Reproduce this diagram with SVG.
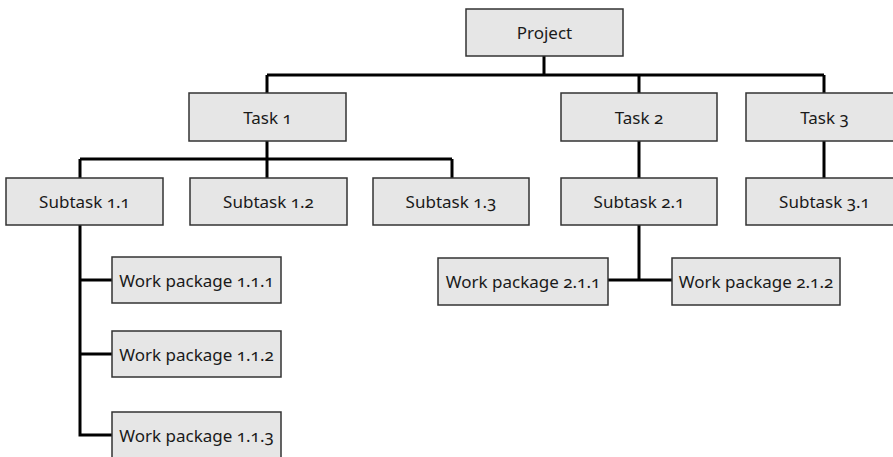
<svg xmlns="http://www.w3.org/2000/svg" width="893" height="457" viewBox="0 0 893 457">
<style>
.box{fill:#e6e6e6;stroke:#333;stroke-width:1.5}
.lbl{font-family:"Noto Sans","Open Sans","Liberation Sans",sans-serif;font-size:17px;fill:#1a1a1a;text-anchor:middle;dominant-baseline:central;font-variant-numeric:oldstyle-nums;font-feature-settings:"onum" 1}
.con{fill:none;stroke:#000;stroke-width:3}
</style>
<rect width="893" height="457" fill="#fff"/>
<g id="connectors">
<path class="con" d="M544,56V75M267,75H824M267,75V93M639,75V93M824,75V93"/>
<path class="con" d="M267,141V159M80,159H452M80,159V178M267,159V178M452,159V178"/>
<path class="con" d="M639,141V178M824,141V178"/>
<path class="con" d="M80,225V435H112M80,280H112M80,354H112"/>
<path class="con" d="M639,225V280M608,280H672"/>
</g>
<g id="project"><rect class="box" x="466" y="9" width="157" height="47"/><text class="lbl" x="544.5" y="32.5">Project</text></g>
<g id="task1"><rect class="box" x="189" y="93" width="157" height="48"/><text class="lbl" x="267.5" y="117">Task 1</text></g>
<g id="task2"><rect class="box" x="561" y="93" width="156" height="48"/><text class="lbl" x="639" y="117">Task 2</text></g>
<g id="task3"><rect class="box" x="746" y="93" width="157" height="48"/><text class="lbl" x="824.5" y="117">Task 3</text></g>
<g id="subtask11"><rect class="box" x="6" y="178" width="157" height="47"/><text class="lbl" x="84.5" y="201.5">Subtask 1.1</text></g>
<g id="subtask12"><rect class="box" x="190" y="178" width="157" height="47"/><text class="lbl" x="268.5" y="201.5">Subtask 1.2</text></g>
<g id="subtask13"><rect class="box" x="373" y="178" width="156" height="47"/><text class="lbl" x="451" y="201.5">Subtask 1.3</text></g>
<g id="subtask21"><rect class="box" x="561" y="178" width="156" height="47"/><text class="lbl" x="639" y="201.5">Subtask 2.1</text></g>
<g id="subtask31"><rect class="box" x="746" y="178" width="157" height="47"/><text class="lbl" x="824.5" y="201.5">Subtask 3.1</text></g>
<g id="wp111"><rect class="box" x="112" y="257" width="169" height="46"/><text class="lbl" x="196.5" y="280">Work package 1.1.1</text></g>
<g id="wp112"><rect class="box" x="112" y="331" width="169" height="46"/><text class="lbl" x="196.5" y="354">Work package 1.1.2</text></g>
<g id="wp113"><rect class="box" x="112" y="412" width="169" height="48"/><text class="lbl" x="196.5" y="435">Work package 1.1.3</text></g>
<g id="wp211"><rect class="box" x="438" y="258" width="170" height="47"/><text class="lbl" x="523" y="281.5">Work package 2.1.1</text></g>
<g id="wp212"><rect class="box" x="672" y="258" width="168" height="47"/><text class="lbl" x="756" y="281.5">Work package 2.1.2</text></g>
</svg>
